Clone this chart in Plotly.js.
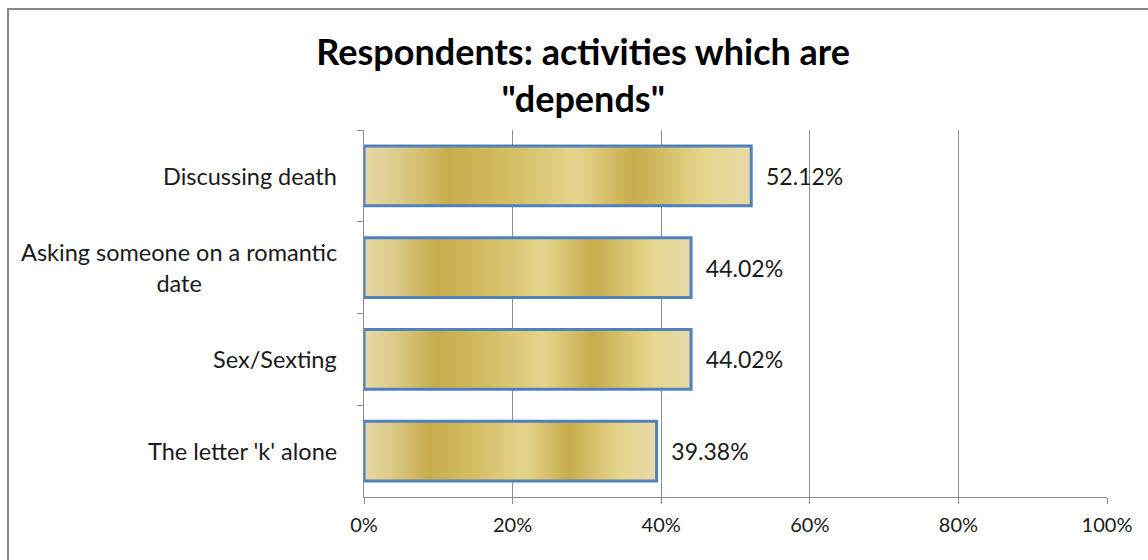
<!DOCTYPE html>
<html>
<head>
<meta charset="utf-8">
<script src="https://cdn.plot.ly/plotly-3.0.1.min.js"></script>
<style>
html,body{margin:0;padding:0;background:#fff;}
#wrap{position:relative;width:1148px;height:560px;overflow:hidden;}
#chart{width:1148px;height:560px;}
#frame{position:absolute;left:7px;top:8px;width:1200px;height:600px;border-top:2px solid #878787;border-left:2px solid #878787;pointer-events:none;}
</style>
</head>
<body>
<div id="wrap"><div id="chart"></div><div id="frame"></div></div>
<script>
var categories = ["Discussing death", "Asking someone on a romantic<br>date", "Sex/Sexting", "The letter 'k' alone"];
var values = [52.12, 44.02, 44.02, 39.38];
var valueLabels = ["52.12%", "44.02%", "44.02%", "39.38%"];
var xTickVals = [0, 20, 40, 60, 80, 100];
var xTickText = ["0%", "20%", "40%", "60%", "80%", "100%"];

var FONT = "Lato, 'Open Sans', sans-serif";

var trace = {
  type: 'bar',
  orientation: 'h',
  y: categories,
  x: values,
  text: valueLabels,
  texttemplate: '  %{text}',
  textposition: 'outside',
  cliponaxis: false,
  textfont: {family: FONT, size: 23, color: '#1a1a1a'},
  marker: {color: '#D6BF6A', line: {color: '#4F81BD', width: 3}},
  hoverinfo: 'none'
};

var annotations = categories.map(function(c){
  return {
    x: 0, xref: 'paper', xshift: -25, xanchor: 'right',
    y: c, yref: 'y', yanchor: 'middle',
    text: c, align: 'center', showarrow: false,
    font: {family: FONT, size: 23.5, color: '#1a1a1a'}
  };
});

var layout = {
  width: 1148, height: 560,
  margin: {l: 364, r: 41, t: 130, b: 63},
  paper_bgcolor: '#fff', plot_bgcolor: '#fff',
  showlegend: false,
  bargap: 0.35,
  title: {
    text: 'Respondents: activities which are<br>"depends"',
    font: {family: FONT, size: 36, color: '#000', weight: 'bold'},
    x: 0.508, xanchor: 'center', y: 0.884, yanchor: 'top'
  },
  xaxis: {
    range: [0, 100], tickvals: xTickVals, ticktext: xTickText,
    showgrid: true, gridcolor: '#8c8c8c', gridwidth: 1,
    showline: true, linecolor: '#8c8c8c', linewidth: 1,
    ticks: 'outside', ticklen: 6, tickcolor: '#8c8c8c',
    ticklabelstandoff: 4,
    zeroline: false,
    tickfont: {family: FONT, size: 20, color: '#1a1a1a'},
    fixedrange: true
  },
  yaxis: {
    type: 'category', autorange: 'reversed',
    showticklabels: false,
    showline: true, linecolor: '#8c8c8c', linewidth: 1,
    ticks: 'outside', ticklen: 6, tickcolor: '#8c8c8c', tickson: 'boundaries',
    showgrid: false, zeroline: false, fixedrange: true
  },
  annotations: annotations
};

Plotly.newPlot('chart', [trace], layout, {staticPlot: true, displayModeBar: false}).then(function(gd){
  var svg = gd.querySelector('svg.main-svg');
  var ns = 'http://www.w3.org/2000/svg';
  var defs = svg.querySelector('defs') || svg.insertBefore(document.createElementNS(ns,'defs'), svg.firstChild);
  var grad = document.createElementNS(ns, 'linearGradient');
  grad.setAttribute('id', 'goldgrad');
  grad.setAttribute('x1', '0'); grad.setAttribute('y1', '0');
  grad.setAttribute('x2', '1'); grad.setAttribute('y2', '0');
  var stops = [[0,'#E6D9A6'],[0.1,'#DCC886'],[0.22,'#C8AC4C'],[0.38,'#D5BD64'],[0.55,'#E4D48C'],[0.7,'#C8AC4C'],[0.88,'#E6D68E'],[1,'#E6D9A8']];
  stops.forEach(function(s){
    var st = document.createElementNS(ns, 'stop');
    st.setAttribute('offset', s[0]); st.setAttribute('stop-color', s[1]);
    grad.appendChild(st);
  });
  defs.appendChild(grad);
  gd.querySelectorAll('.bars .point path').forEach(function(p){
    p.style.fill = 'url(#goldgrad)';
  });
});
</script>
</body>
</html>
